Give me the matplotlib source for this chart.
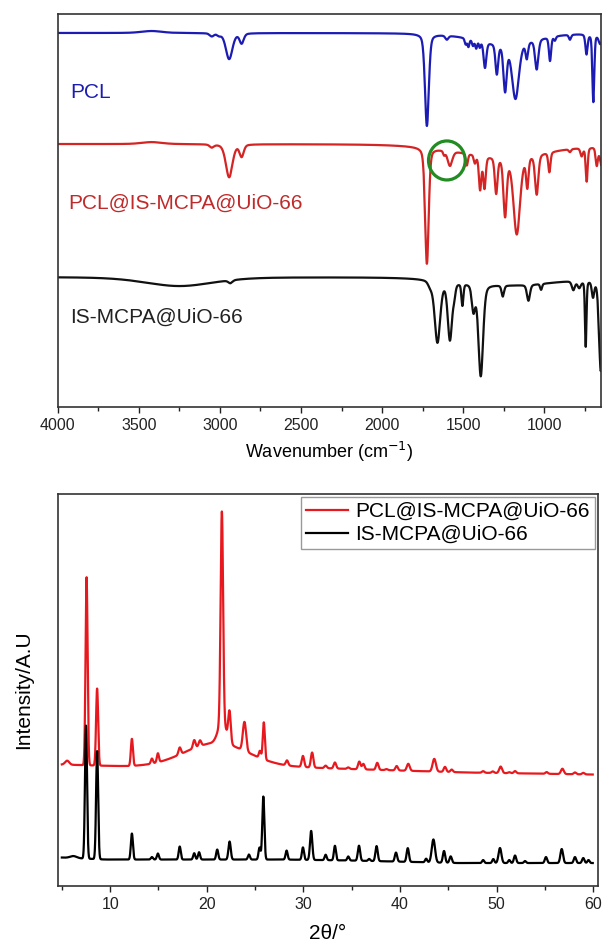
import numpy as np
import matplotlib.pyplot as plt
from matplotlib.patches import Ellipse

plt.rcParams['font.family'] = ['Liberation Sans', 'DejaVu Sans']

# ---------------- FTIR bands: centre (cm-1), depth, FWHM (cm-1) ----------------
pcl_level = 374
pcl_center = [3420, 3050, 3005, 2943, 2866, 1724, 1601, 1250, 1485, 1468, 1440, 1420, 1398,
              1366, 1293, 1242, 1178, 1108, 1047, 965, 935, 842, 740, 698, 655]
pcl_depth = [-2, 3, 2, 26, 10, 92, 4, 10, 6, 8, 6, 8, 6,
             26, 30, 46, 56, 16, 30, 24, 4, 5, 20, 68, 10]
pcl_fwhm = [150, 30, 25, 48, 30, 28, 22, 450, 14, 14, 14, 14, 12,
            20, 20, 24, 50, 18, 24, 16, 14, 16, 16, 14, 25]

comp_level = 263
comp_center = [3420, 3050, 2943, 2866, 1724, 1618, 1582, 1250, 1478, 1428, 1396, 1369,
               1297, 1242, 1170, 1105, 1047, 969, 842, 770, 739, 677, 645]
comp_depth = [-2, 3, 33, 12, 116, 4, 15, 12, 12, 8, 34, 32,
              36, 58, 78, 30, 40, 20, 3, 8, 34, 18, 20]
comp_fwhm = [150, 30, 48, 30, 26, 14, 34, 700, 16, 16, 18, 18,
             20, 24, 48, 18, 24, 16, 16, 18, 14, 16, 28]

mof_level = 130
mof_center = [3250, 2935, 1200, 1704, 1659, 1582, 1555, 1505, 1437, 1392,
              1256, 1098, 1020, 821, 785, 745, 700, 652]
mof_depth = [9, 3, 8, 5, 62, 58, 9, 22, 26, 92,
             11, 16, 6, 9, 7, 66, 16, 92]
mof_fwhm = [500, 30, 700, 30, 40, 32, 18, 14, 24, 34,
            18, 22, 14, 22, 24, 11, 18, 26]

ftir_labels = ['PCL', 'PCL@IS-MCPA@UiO-66', 'IS-MCPA@UiO-66']

# ---------------- XRD peaks: position (2theta), height, FWHM ----------------
comp_xrd_pos = [5.55, 7.56, 8.65, 12.25, 14.32, 14.94, 17.2, 18.7, 19.3, 21.56, 21.6,
                22.35, 23.9, 25.5, 25.9, 28.3, 29.95, 30.9, 32.3, 33.26, 34.64, 35.78,
                36.2, 37.64, 38.6, 39.65, 40.85, 43.54, 44.65, 45.34, 48.6, 49.6,
                50.41, 51.3, 51.9, 55.17, 56.8, 58.1, 58.96]
comp_xrd_h = [4, 188, 77, 27, 5, 9, 7, 8, 5.6, 210, 22,
              30, 29, 7, 37, 5, 11, 15, 2.5, 6, 1.5, 7.7,
              5.5, 7, 1, 4.4, 7, 12.7, 5, 2.5, 1.6, 1.5,
              6.5, 1, 2.2, 1.7, 5.3, 1.8, 1.5]
comp_xrd_w = [0.5, 0.25, 0.25, 0.25, 0.25, 0.25, 0.3, 0.3, 0.3, 0.3, 1.0,
              0.3, 0.4, 0.25, 0.25, 0.3, 0.3, 0.3, 0.3, 0.3, 0.3, 0.3,
              0.3, 0.3, 0.3, 0.3, 0.35, 0.4, 0.3, 0.3, 0.3, 0.3,
              0.35, 0.3, 0.3, 0.3, 0.35, 0.3, 0.3]
comp_base_x = [5, 12, 30, 40, 47, 60]
comp_base_y = [121, 119, 118, 115, 113, 111]
comp_hump = (21.0, 24.0, 3.3)   # amorphous PCL halo: centre, height, sigma

mof_xrd_pos = [6.2, 7.5, 8.65, 12.25, 14.32, 14.94, 17.2, 18.7, 19.2, 21.08, 22.36,
               24.36, 25.46, 25.85, 28.26, 29.95, 30.8, 32.3, 33.26, 34.64, 35.75,
               36.8, 37.57, 39.58, 40.8, 42.7, 43.45, 44.55, 45.24, 48.6, 49.65,
               50.34, 51.3, 51.9, 52.93, 55.1, 56.73, 58.1, 58.96, 59.5]
mof_xrd_h = [2, 133, 108, 26, 2.5, 6, 13, 6.3, 7.3, 10, 18,
             5, 12, 63, 9, 12.4, 29, 5.4, 14.5, 4, 15,
             2, 15, 9, 13.7, 3.6, 23, 11.7, 6.5, 3, 4,
             15, 3, 7.5, 2, 6, 14, 6, 5, 3]
mof_xrd_w = [0.8, 0.25, 0.25, 0.25, 0.25, 0.25, 0.25, 0.25, 0.25, 0.25, 0.28,
             0.25, 0.25, 0.25, 0.25, 0.25, 0.28, 0.25, 0.25, 0.25, 0.28,
             0.25, 0.28, 0.28, 0.28, 0.25, 0.4, 0.28, 0.28, 0.25, 0.25,
             0.35, 0.25, 0.28, 0.25, 0.28, 0.32, 0.28, 0.28, 0.25]
mof_base_x = [5, 9.5, 28, 35, 46, 60]
mof_base_y = [28, 26, 26, 25, 22.5, 22.5]

xrd_labels = ['PCL@IS-MCPA@UiO-66', 'IS-MCPA@UiO-66']


def pvoigt(x, c, fwhm, eta):
    u = (x - c) / fwhm
    return eta / (1 + 4 * u ** 2) + (1 - eta) * np.exp(-4 * np.log(2) * u ** 2)


def ir_trace(wn, level, centers, depths, widths):
    y = np.full_like(wn, level, dtype=float)
    for c, d, w in zip(centers, depths, widths):
        y -= d * pvoigt(wn, c, w, 0.35)
    return y


def xrd_trace(tt, bx, by, pos, hts, wds, hump=None):
    y = np.interp(tt, bx, by)
    if hump is not None:
        c, h, s = hump
        y += h * np.exp(-0.5 * ((tt - c) / s) ** 2)
    for p, h, w in zip(pos, hts, wds):
        y += h * np.exp(-4 * np.log(2) * ((tt - p) / w) ** 2)
    return y


wn = np.arange(650, 4001, 1.0)
tt = np.arange(5.0, 59.95, 0.01)

fig = plt.figure(figsize=(6.02, 9.48), dpi=100)

# ---------------- FTIR ----------------
ax1 = fig.add_axes([0.0958, 0.5707, 0.9025, 0.4146])
ax1.plot(wn, ir_trace(wn, pcl_level, pcl_center, pcl_depth, pcl_fwhm), color='#1c1cb4', lw=1.6)
ax1.plot(wn, ir_trace(wn, comp_level, comp_center, comp_depth, comp_fwhm), color='#d42424', lw=1.6)
ax1.plot(wn, ir_trace(wn, mof_level, mof_center, mof_depth, mof_fwhm), color='#111111', lw=1.6)
ax1.text(3924, 314, ftir_labels[0], color='#1c1cb4', fontsize=15, va='center', ha='left')
ax1.text(3937, 204, ftir_labels[1], color='#c02a2a', fontsize=15, va='center', ha='left')
ax1.text(3924, 90, ftir_labels[2], color='#222222', fontsize=15, va='center', ha='left')
ax1.add_patch(Ellipse((1601, 246.5), width=226, height=39, fill=False,
                      edgecolor='#228b22', lw=2.3, zorder=5))
ax1.set_xlim(4000, 651)
ax1.set_ylim(0, 393)
ax1.set_xticks([4000, 3500, 3000, 2500, 2000, 1500, 1000])
ax1.set_xticks(np.arange(3750, 700, -500), minor=True)
ax1.set_yticks([])
ax1.set_xlabel('Wavenumber (cm$^{-1}$)', fontsize=13, labelpad=5)

# ---------------- XRD ----------------
ax2 = fig.add_axes([0.0963, 0.0659, 0.8965, 0.4135])
ax2.plot(tt, xrd_trace(tt, comp_base_x, comp_base_y, comp_xrd_pos, comp_xrd_h, comp_xrd_w, comp_hump),
         color='#e8191e', lw=1.6, label=xrd_labels[0])
ax2.plot(tt, xrd_trace(tt, mof_base_x, mof_base_y, mof_xrd_pos, mof_xrd_h, mof_xrd_w),
         color='#000000', lw=1.6, label=xrd_labels[1])
ax2.set_xlim(4.6, 60.45)
ax2.set_ylim(0, 392)
ax2.set_xticks([10, 20, 30, 40, 50, 60])
ax2.set_xticks([5, 15, 25, 35, 45, 55], minor=True)
ax2.set_yticks([])
ax2.set_xlabel('2θ/°', fontsize=15, labelpad=9)
ax2.set_ylabel('Intensity/A.U', fontsize=15, labelpad=18)
ax2.legend(loc='upper right', fontsize=15, frameon=True, fancybox=False,
           edgecolor='#999999', framealpha=1, borderaxespad=0.15, handlelength=2.0,
           handletextpad=0.35, borderpad=0.25, labelspacing=0.2)

for ax in (ax1, ax2):
    for sp in ax.spines.values():
        sp.set_color('#333333')
        sp.set_linewidth(1.2)
    ax.tick_params(axis='x', which='major', direction='out', length=4.5, width=1,
                   labelsize=11.5, colors='#222222')
    ax.tick_params(axis='x', which='minor', direction='out', length=3, width=1, colors='#222222')

fig.savefig('out.png', dpi=100)
